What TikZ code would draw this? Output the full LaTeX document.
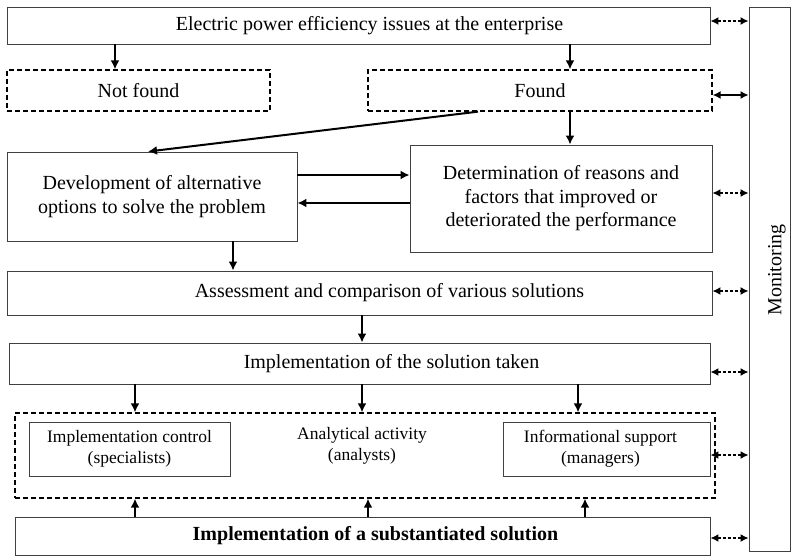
\documentclass[tikz,border=0pt]{standalone}
\usepackage{fontspec}
\setmainfont{Liberation Serif}
\usetikzlibrary{arrows.meta}
\begin{document}
\begin{tikzpicture}[x=1pt,y=-1pt,
  box/.style={draw=black!75,line width=0.9pt,rectangle,inner sep=0pt,align=center,font=\fontsize{20}{23.5}\selectfont},
  dbox/.style={box,draw=black,dashed,dash pattern=on 5pt off 3pt,line width=1.3pt},
  sbox/.style={box,font=\fontsize{17.5}{21}\selectfont},
  lbl/.style={inner sep=0pt,font=\fontsize{20}{23.5}\selectfont},
  arr/.style={line width=2pt,-{Latex[length=9pt,width=9pt]}},
  mon/.style={line width=1.5pt,dash pattern=on 3pt off 2pt,{Latex[length=8pt,width=8pt]}-{Latex[length=8pt,width=8pt]}},
  smon/.style={line width=1.5pt,{Latex[length=8pt,width=8pt]}-{Latex[length=8pt,width=8pt]}}]
\useasboundingbox (0,0) rectangle (791,556);
\fill[white] (0,0) rectangle (791,556);

\node[box,minimum width=703pt,minimum height=37pt,label={[lbl,xshift=11pt]center:Electric power efficiency issues at the enterprise}] (top) at (358.5,25.5) {};
\node[dbox,minimum width=263pt,minimum height=41pt] (notfound) at (138.5,90.5) {Not found};
\node[dbox,minimum width=344pt,minimum height=41pt] (found) at (540,90.5) {Found};
\node[box,minimum width=290pt,minimum height=89pt] (dev) at (152,196.5) {Development of alternative\\options to solve the problem};
\node[box,minimum width=302pt,minimum height=107pt] (det) at (561,198.5) {Determination of reasons and\\factors that improved or\\deteriorated the performance};
\node[box,minimum width=705pt,minimum height=44pt,label={[lbl,xshift=30pt]center:Assessment and comparison of various solutions}] (assess) at (359.5,293) {};
\node[box,minimum width=701pt,minimum height=41pt,label={[lbl,xshift=32pt]center:Implementation of the solution taken}] (impl) at (359.5,363.5) {};
\node[dbox,minimum width=700pt,minimum height=85pt] (group) at (365,455.5) {};
\node[sbox,minimum width=201pt,minimum height=54pt] (ctrl) at (129.5,449) {Implementation control\\(specialists)};
\node[align=center,inner sep=0pt,font=\fontsize{17.5}{21}\selectfont] (anal) at (362,446) {Analytical activity\\(analysts)};
\node[sbox,minimum width=207pt,minimum height=54pt,label={[lbl,align=center,font=\fontsize{17.5}{21}\selectfont,xshift=-6pt]center:Informational support\\(managers)}] (info) at (606.5,449) {};
\node[box,minimum width=695pt,minimum height=38pt,label={[lbl,font=\fontsize{20}{23.5}\selectfont\bfseries,xshift=13pt]center:Implementation of a substantiated solution}] (subst) at (362.5,536) {};
\node[box,minimum width=41pt,minimum height=544pt] (mon) at (769.5,279) {};
\node[rotate=90,lbl] (montext) at (777,270) {Monitoring};

\draw[arr] (top.south -| 115,0) -- (notfound.north -| 115,0);
\draw[arr] (top.south -| 570,0) -- (found.north -| 570,0);
\draw[arr] (found.south -| 478,0) -- (dev.north -| 148,0);
\draw[arr] (found.south -| 570,0) -- (det.north -| 570,0);
\draw[arr] (dev.east |- 0,175) -- (det.west |- 0,175);
\draw[arr] (det.west |- 0,203) -- (dev.east |- 0,203);
\draw[arr] (dev.south -| 233,0) -- (assess.north -| 233,0);
\draw[arr] (assess.south -| 362,0) -- (impl.north -| 362,0);
\draw[arr] (impl.south -| 135,0) -- (group.north -| 135,0);
\draw[arr] (impl.south -| 362,0) -- (group.north -| 362,0);
\draw[arr] (impl.south -| 578,0) -- (group.north -| 578,0);
\draw[arr] (subst.north -| 135,0) -- (group.south -| 135,0);
\draw[arr] (subst.north -| 368,0) -- (group.south -| 368,0);
\draw[arr] (subst.north -| 585,0) -- (group.south -| 585,0);

\draw[mon] (top.east |- 0,21) -- (mon.west |- 0,21);
\draw[smon] (found.east |- 0,95) -- (mon.west |- 0,95);
\draw[mon] (det.east |- 0,193) -- (mon.west |- 0,193);
\draw[mon] (assess.east |- 0,291) -- (mon.west |- 0,291);
\draw[mon] (impl.east |- 0,372) -- (mon.west |- 0,372);
\draw[mon] (info.east |- 0,455) -- (mon.west |- 0,455);
\draw[mon] (subst.east |- 0,538) -- (mon.west |- 0,538);
\end{tikzpicture}
\end{document}
